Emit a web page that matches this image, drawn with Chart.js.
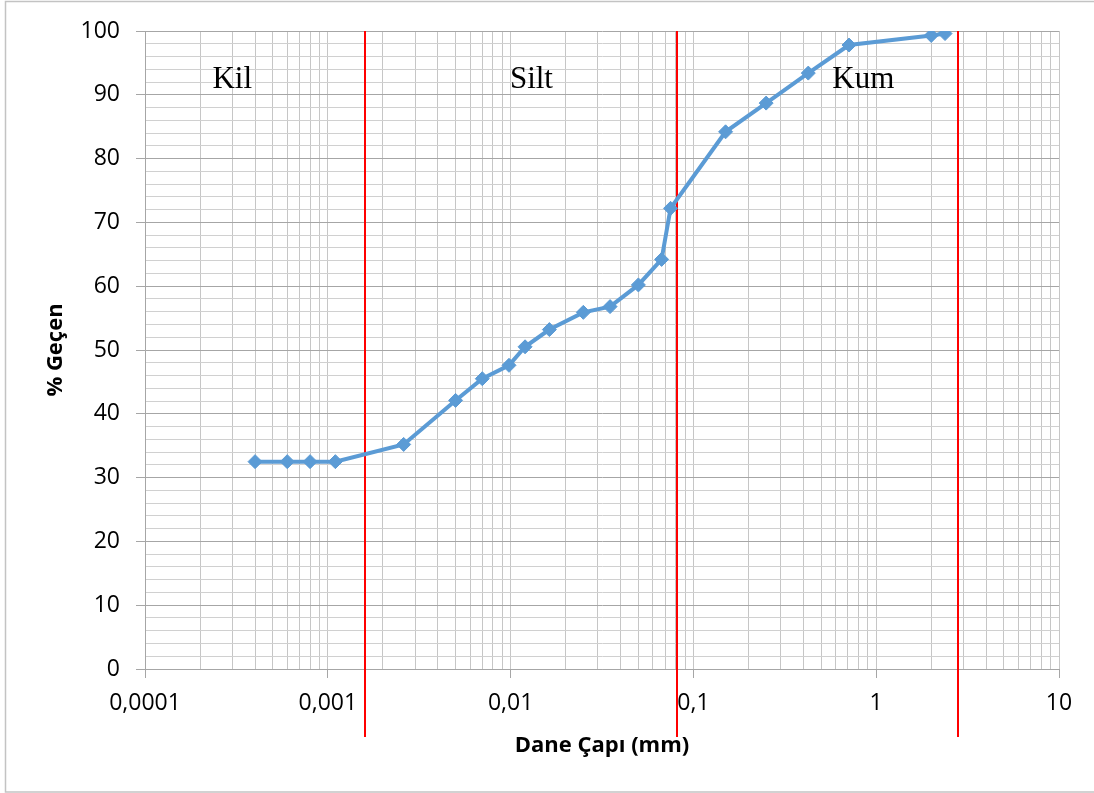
<!DOCTYPE html>
<html>
<head>
<meta charset="utf-8">
<script src="https://cdn.jsdelivr.net/npm/chart.js"></script>
<style>
  html, body { margin: 0; padding: 0; background: #fff; }
  #wrap { width: 1094px; height: 793px; position: relative; }
</style>
</head>
<body>
<div id="wrap"><canvas id="c" width="1094" height="793"></canvas></div>
<script>
// Grain size distribution (hydrometer + sieve)
const grainSize = [0.0004, 0.0006, 0.0008, 0.0011, 0.0026, 0.005, 0.007, 0.0098, 0.012, 0.0163,
                   0.025, 0.035, 0.05, 0.067, 0.075, 0.15, 0.25, 0.425, 0.71, 2.0, 2.38];
const passing   = [32.5, 32.5, 32.5, 32.5, 35.2, 42.1, 45.5, 47.6, 50.5, 53.2,
                   55.9, 56.8, 60.2, 64.2, 72.2, 84.2, 88.7, 93.4, 97.8, 99.3, 99.6];

// Soil class boundaries (mm) and zone names
const boundaries = [0.0016, 0.0813, 2.81];
const zoneNames  = ['Kil', 'Silt', 'Kum'];
const zoneLabelX = [0.0003, 0.013, 0.85];
const zoneLabelY = 91;

// Axis ticks
const decadeTicks  = [0.0001, 0.001, 0.01, 0.1, 1, 10];
const decadeLabels = ['0,0001', '0,001', '0,01', '0,1', '1', '10'];
const yMajorStep = 10;
const yMinorStep = 2;

const BLUE = '#5B9BD5';
const tickFont = { family: '"Open Sans", "Noto Sans", sans-serif', size: 23 };
const titleFont = { family: '"Open Sans", "Noto Sans", sans-serif', size: 22, weight: 'bold' };

function decadeIndex(v) {
  for (let i = 0; i < decadeTicks.length; i++) {
    if (Math.abs(v / decadeTicks[i] - 1) < 1e-6) return i;
  }
  return -1;
}

// 1..9 x 10^n grid values over the axis range
function logGridValues() {
  const vals = [];
  for (let e = -4; e <= 0; e++) {
    for (let m = 1; m <= 9; m++) vals.push(Number((m * Math.pow(10, e)).toPrecision(6)));
  }
  vals.push(10);
  return vals;
}

const frame = {
  id: 'frame',
  beforeDraw(chart) {
    const ctx = chart.ctx;
    ctx.save();
    ctx.fillStyle = '#fff';
    ctx.fillRect(0, 0, chart.width, chart.height);
    ctx.strokeStyle = '#c3c3c3';
    ctx.lineWidth = 1.5;
    ctx.strokeRect(5.5, 1.5, 1200, 790.5);
    ctx.restore();
  }
};

const zoneLines = {
  id: 'zoneLines',
  beforeDatasetsDraw(chart) {
    const { ctx, chartArea, scales: { x } } = chart;
    ctx.save();
    ctx.strokeStyle = '#ff0000';
    ctx.lineWidth = 2;
    boundaries.forEach(b => {
      const px = Math.round(x.getPixelForValue(b));
      ctx.beginPath();
      ctx.moveTo(px, chartArea.top);
      ctx.lineTo(px, chartArea.bottom + 68);
      ctx.stroke();
    });
    ctx.restore();
  },
  afterDatasetsDraw(chart) {
    const { ctx, scales: { x, y } } = chart;
    ctx.save();
    ctx.fillStyle = '#000';
    ctx.font = '31px "Liberation Serif", "DejaVu Serif", serif';
    ctx.textAlign = 'center';
    ctx.textBaseline = 'alphabetic';
    zoneNames.forEach((name, i) => {
      ctx.fillText(name, x.getPixelForValue(zoneLabelX[i]), y.getPixelForValue(zoneLabelY));
    });
    ctx.restore();
  }
};

new Chart(document.getElementById('c'), {
  type: 'scatter',
  data: {
    datasets: [{
      data: grainSize.map((g, i) => ({ x: g, y: passing[i] })),
      showLine: true,
      tension: 0,
      borderColor: BLUE,
      borderWidth: 4,
      backgroundColor: BLUE,
      pointStyle: 'rectRot',
      pointRadius: 7,
      pointBorderWidth: 1,
      pointBorderColor: BLUE,
      pointBackgroundColor: BLUE
    }]
  },
  options: {
    responsive: false,
    devicePixelRatio: 1,
    animation: false,
    layout: { padding: { top: 31, right: 35, left: 0, bottom: 0 } },
    plugins: { legend: { display: false }, tooltip: { enabled: false } },
    scales: {
      x: {
        type: 'logarithmic',
        min: 0.0001,
        max: 10,
        afterBuildTicks(scale) {
          scale.ticks = logGridValues().map(v => ({ value: v, major: decadeIndex(v) >= 0 }));
        },
        afterFit(scale) { scale.height = 124; },
        grid: {
          color: '#c6c6c6',
          lineWidth: 1,
          tickLength: 9,
          tickColor: ctx => (decadeIndex(ctx.tick.value) >= 0 ? '#a6a6a6' : 'rgba(0,0,0,0)')
        },
        border: { color: '#a6a6a6', width: 1 },
        ticks: {
          autoSkip: false,
          maxRotation: 0,
          minRotation: 0,
          padding: 12,
          color: '#000',
          font: tickFont,
          callback: v => {
            const i = decadeIndex(v);
            return i >= 0 ? decadeLabels[i] : '';
          }
        },
        title: {
          display: true,
          text: 'Dane Çapı (mm)',
          color: '#000',
          font: titleFont,
          padding: { top: 0, bottom: 34 }
        }
      },
      y: {
        min: 0,
        max: 100,
        afterFit(scale) { scale.width = 145; },
        grid: {
          color: ctx => (ctx.tick.value % yMajorStep === 0 ? '#a6a6a6' : '#d0d0d0'),
          lineWidth: 1,
          tickLength: 9,
          tickColor: ctx => (ctx.tick.value % yMajorStep === 0 ? '#a6a6a6' : 'rgba(0,0,0,0)')
        },
        border: { color: '#a6a6a6', width: 1 },
        ticks: {
          stepSize: yMinorStep,
          autoSkip: false,
          padding: 16,
          color: '#000',
          font: tickFont,
          callback: v => (v % yMajorStep === 0 ? String(v) : '')
        },
        title: {
          display: true,
          text: '% Geçen',
          color: '#000',
          font: titleFont,
          padding: { top: 43, bottom: 0 }
        }
      }
    }
  },
  plugins: [frame, zoneLines]
});
</script>
</body>
</html>
